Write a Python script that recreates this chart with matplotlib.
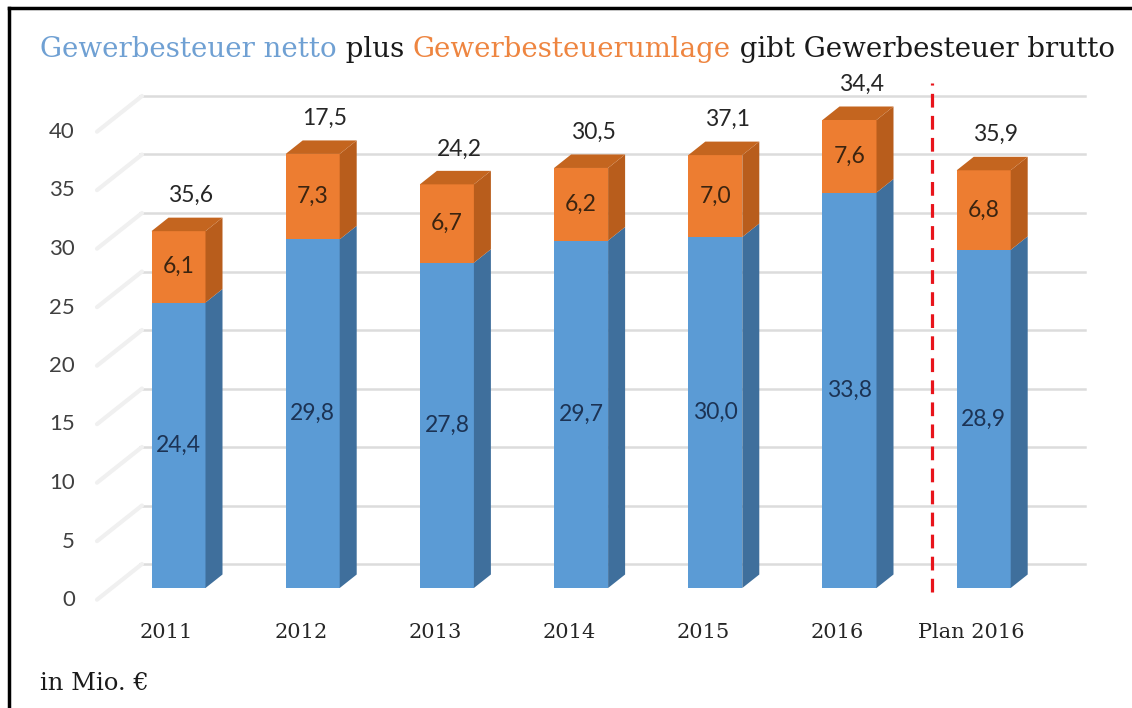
import numpy as np
import matplotlib.pyplot as plt
from matplotlib.patches import Polygon
from matplotlib.lines import Line2D

# -----------------------------
# Data (Mio. EUR)
# -----------------------------
categories = ["2011", "2012", "2013", "2014", "2015", "2016", "Plan 2016"]
netto = [24.4, 29.8, 27.8, 29.7, 30.0, 33.8, 28.9]
umlage = [6.1, 7.3, 6.7, 6.2, 7.0, 7.6, 6.8]
netto_labels = ["24,4", "29,8", "27,8", "29,7", "30,0", "33,8", "28,9"]
umlage_labels = ["6,1", "7,3", "6,7", "6,2", "7,0", "7,6", "6,8"]
brutto_labels = ["35,6", "17,5", "24,2", "30,5", "37,1", "34,4", "35,9"]
y_ticks = [0, 5, 10, 15, 20, 25, 30, 35, 40]
y_max = 40

# -----------------------------
# Colours / fonts
# -----------------------------
blue, blue_side = "#5b9bd5", "#3f6f9c"
orange, orange_side, orange_top = "#ed7d31", "#b85d1c", "#c4651f"
slab = "DejaVu Serif"
sans = "Lato"

W, H = 1132, 708
fig = plt.figure(figsize=(W / 100, H / 100), dpi=100)

# layout in pixels
x0_px, step_px = 178.5, 134.2    # front centre of first bar, spacing
y0_px, unit_px = 588, 11.7       # floor line, px per Mio
xlim = (-0.6, 6.8)
ylim = (-3, 42)
left_px = x0_px + xlim[0] * step_px
right_px = x0_px + xlim[1] * step_px
bot_px = y0_px - ylim[0] * unit_px
top_px = y0_px - ylim[1] * unit_px
ax = fig.add_axes([left_px / W, 1 - bot_px / H,
                   (right_px - left_px) / W, (bot_px - top_px) / H])
ax.set_xlim(xlim)
ax.set_ylim(ylim)
ax.axis("off")


def px_x(px):
    return (px - x0_px) / step_px


def px_y(py):
    return (y0_px - py) / unit_px


# -----------------------------
# Back wall grid + side diagonals
# -----------------------------
wall_dy = 24 / unit_px
for v in y_ticks:
    ax.plot([px_x(140), px_x(1085)], [v + wall_dy] * 2,
            color="#dcdcdc", lw=1.8, zorder=1, clip_on=False)
    ax.plot([px_x(97), px_x(142)], [v - 1.0, v + wall_dy],
            color="#f0f0f0", lw=3, zorder=1, clip_on=False,
            solid_capstyle="round")
    ax.text(px_x(75), v - 12 / unit_px, str(v), ha="right", va="center",
            fontsize=16, family=sans, color="#404040")

# -----------------------------
# 3D-ish stacked bars
# -----------------------------
x = np.arange(len(categories))
netto = np.array(netto)
umlage = np.array(umlage)
total = np.minimum(netto + umlage, y_max)   # clipped at axis maximum
top_part = total - netto
bw = 54 / step_px
dx = 17 / step_px
dy = 13.5 / unit_px

ax.bar(x, netto, width=bw, color=blue, zorder=3)
ax.bar(x, top_part, bottom=netto, width=bw, color=orange, zorder=3)

for xi, n, t in zip(x, netto, total):
    xl, xr = xi - bw / 2, xi + bw / 2
    ax.add_patch(Polygon([(xr, 0), (xr + dx, dy), (xr + dx, n + dy), (xr, n)],
                         closed=True, color=blue_side, zorder=3, lw=0))
    ax.add_patch(Polygon([(xr, n), (xr + dx, n + dy), (xr + dx, t + dy), (xr, t)],
                         closed=True, color=orange_side, zorder=3, lw=0))
    ax.add_patch(Polygon([(xl, t), (xr, t), (xr + dx, t + dy), (xl + dx, t + dy)],
                         closed=True, color=orange_top, zorder=3, lw=0))

for xi, n, t, nl, ul, bl in zip(x, netto, total, netto_labels,
                                umlage_labels, brutto_labels):
    ax.text(xi, n / 2, nl, ha="center", va="center", fontsize=16.5,
            family=sans, color="#1c3354", zorder=5)
    ax.text(xi, (n + t) / 2, ul, ha="center", va="center", fontsize=16.5,
            family=sans, color="#3b2410", zorder=5)
    ax.text(xi + 12 / step_px, t + dy + 22 / unit_px, bl, ha="center",
            va="center", fontsize=16.5, family=sans, color="#262626", zorder=5)
    ax.text(xi - 12 / step_px, px_y(632), categories[xi], ha="center",
            va="center", fontsize=15, family=slab, color="#262626")

# red dashed separator before the plan bar
ax.plot([px_x(932)] * 2, [px_y(592), px_y(83)], color="#e8141b", lw=2.3,
        linestyle=(0, (4.3, 2.6)), zorder=4, clip_on=False)

# -----------------------------
# Title in three colours
# -----------------------------
pieces = [("Gewerbesteuer netto", "#6fa0d3"), (" plus ", "#1a1a1a"),
          ("Gewerbesteuerumlage", "#ee8540"),
          (" gibt Gewerbesteuer brutto", "#1a1a1a")]
renderer = fig.canvas.get_renderer()
xpos = 40 / W
for txt, col in pieces:
    t = fig.text(xpos, 1 - 57 / H, txt, color=col, fontsize=19.9,
                 family=slab, va="baseline", ha="left")
    bb = t.get_window_extent(renderer=renderer)
    xpos += bb.width / W

fig.text(40 / W, 1 - 690 / H, "in Mio. €", fontsize=17.5, family=slab,
         color="#1a1a1a", va="baseline", ha="left")

# frame (left and top edge)
fig.add_artist(Line2D([9 / W, 9 / W], [0, 1 - 8 / H], color="black", lw=2.5))
fig.add_artist(Line2D([9 / W, 1], [1 - 8 / H, 1 - 8 / H], color="black", lw=2.5))

fig.savefig("out.png", dpi=100, facecolor="white")
